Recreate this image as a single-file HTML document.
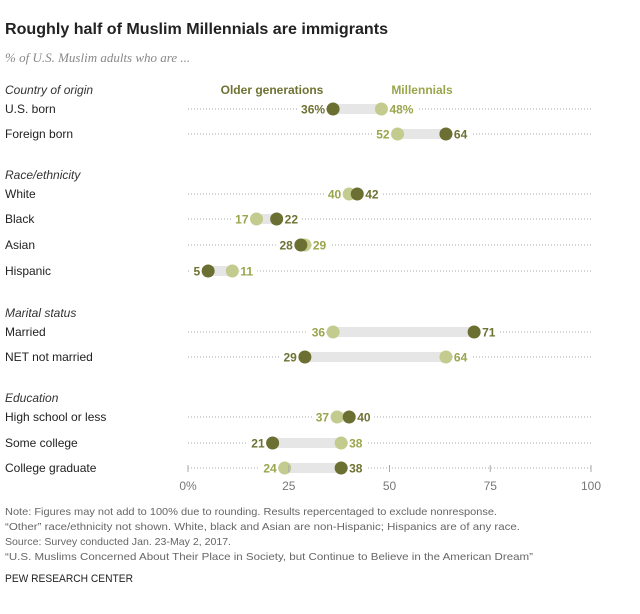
<!DOCTYPE html>
<html><head><meta charset="utf-8"><style>
body{margin:0;background:#fff;}
svg text{font-family:"Liberation Sans",sans-serif;}
</style></head><body>
<svg id="chart" width="640" height="609" viewBox="0 0 640 609" xmlns="http://www.w3.org/2000/svg">
<text x="5" y="34" font-size="16" font-weight="bold" fill="#222" textLength="383" lengthAdjust="spacingAndGlyphs">Roughly half of Muslim Millennials are immigrants</text>
<text x="5" y="62" font-size="13" font-style="italic" fill="#888" style="font-family:'Liberation Serif',serif">% of U.S. Muslim adults who are ...</text>
<text x="272" y="94" font-size="12" font-weight="bold" fill="#6e7232" text-anchor="middle">Older generations</text>
<text x="422" y="94" font-size="12" font-weight="bold" fill="#9aa54c" text-anchor="middle">Millennials</text>
<g id="rows"></g>
<g id="axis"></g>
<g font-size="10.5" fill="#666">
<text x="5" y="515" textLength="492" lengthAdjust="spacingAndGlyphs">Note: Figures may not add to 100% due to rounding. Results repercentaged to exclude nonresponse.</text>
<text x="5" y="530" textLength="515" lengthAdjust="spacingAndGlyphs">“Other” race/ethnicity not shown. White, black and Asian are non-Hispanic; Hispanics are of any race.</text>
<text x="5" y="545" textLength="226" lengthAdjust="spacingAndGlyphs">Source: Survey conducted Jan. 23-May 2, 2017.</text>
<text x="5" y="560" textLength="528" lengthAdjust="spacingAndGlyphs">“U.S. Muslims Concerned About Their Place in Society, but Continue to Believe in the American Dream”</text>
</g>
<text x="5" y="582" font-size="11" fill="#222" textLength="128" lengthAdjust="spacingAndGlyphs">PEW RESEARCH CENTER</text>
</svg>
<script>
const categories=["U.S. born","Foreign born","White","Black","Asian","Hispanic","Married","NET not married","High school or less","Some college","College graduate"];
const olderValues=[36,64,42,22,28,5,71,29,40,21,38];
const millennialValues=[48,52,40,17,29,11,36,64,37,38,24];
const sections=["Country of origin","Race/ethnicity","Marital status","Education"];
const tickValues=[0,25,50,75,100];
const tickLabels=["0%","25","50","75","100"];
const rowY=[109,134,194,219,245,271,332,357,417,443,468];
const sectionY=[90,175,313,398];
const NS="http://www.w3.org/2000/svg";
const x=v=>188+v*4.03;
function mk(tag,attrs,parent,text){const e=document.createElementNS(NS,tag);for(const k in attrs)e.setAttribute(k,attrs[k]);if(text!==undefined)e.textContent=text;parent.appendChild(e);return e;}
const rows=document.getElementById('rows');
sections.forEach((s,i)=>{
  const t=mk('text',{x:5,y:sectionY[i]+4,'font-size':12,'font-style':'italic',fill:'#333'},rows,s);
  
  
});
categories.forEach((c,i)=>{
  const y=rowY[i];
  const g=mk('g',{},rows);
  
  
  mk('text',{x:5,y:y+4,'font-size':12,fill:'#222'},g,c);
  mk('line',{x1:x(0),x2:x(100),y1:y,y2:y,stroke:'#aaa','stroke-width':1,'stroke-dasharray':'1,2'},g);
  const o=olderValues[i],m=millennialValues[i];
  mk('line',{x1:x(Math.min(o,m)),x2:x(Math.max(o,m)),y1:y,y2:y,stroke:'#e6e6e6','stroke-width':10},g);
  const pct=i===0?'%':'';
  const pts=[{v:m,fill:'#c3cc8e',tc:'#9aa54c',n:'dot-millennials'},{v:o,fill:'#6b6f32',tc:'#6e7232',n:'dot-older'}];
  const lowIsOlder=o<=m;
  pts.forEach(p=>{
    const isLow=(p.n==='dot-older')===lowIsOlder;
    const lbl=p.v+pct;
    const w=lbl.length*7+(pct?4:0)+3;
    const lx=isLow?x(p.v)-8:x(p.v)+8;
    mk('rect',{x:isLow?lx-w:lx-1,y:y-6,width:w+1,height:12,fill:'#fff'},g);
    mk('text',{x:lx,y:y+4.5,'font-size':12,'font-weight':'bold',fill:p.tc,'text-anchor':isLow?'end':'start'},g,lbl);
  });
  pts.forEach(p=>{
    const d=mk('circle',{cx:x(p.v),cy:y,r:6.5,fill:p.fill},g);
    
    
  });
});
const ax=document.getElementById('axis');
tickValues.forEach((v,i)=>{
  const tk=mk('line',{x1:x(v),x2:x(v),y1:465,y2:472,stroke:'#aaa'},ax);
  
  
  const t=mk('text',{x:x(v),y:490,'font-size':12,fill:'#777','text-anchor':'middle'},ax,tickLabels[i]);
  
  
});
</script>
</body></html>
